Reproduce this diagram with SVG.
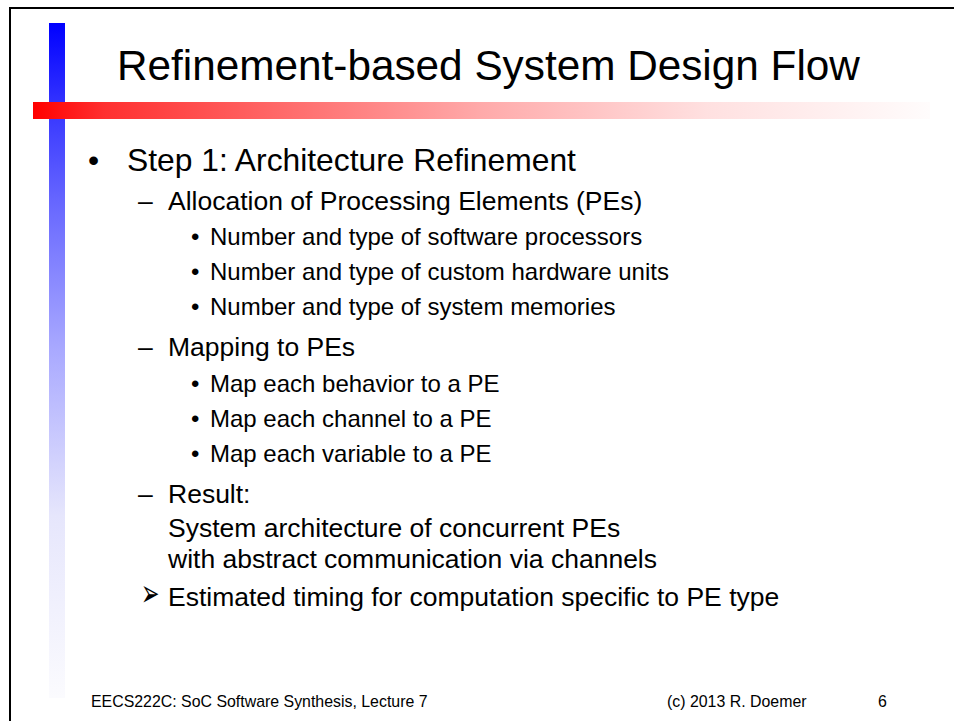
<svg xmlns="http://www.w3.org/2000/svg" width="954" height="721" viewBox="0 0 954 721">
  <defs>
    <linearGradient id="blueGrad" x1="0" y1="0" x2="0" y2="1">
      <stop offset="0" stop-color="#0000ff"/>
      <stop offset="0.12" stop-color="#3333ff"/>
      <stop offset="0.26" stop-color="#6565ff"/>
      <stop offset="0.48" stop-color="#a8a8ff"/>
      <stop offset="0.73" stop-color="#e6e6fc"/>
      <stop offset="1" stop-color="#fbfbfe"/>
    </linearGradient>
    <linearGradient id="redGrad" x1="0" y1="0" x2="1" y2="0">
      <stop offset="0" stop-color="#ff0000"/>
      <stop offset="0.08" stop-color="#ff3030"/>
      <stop offset="0.3" stop-color="#ff7070"/>
      <stop offset="0.5" stop-color="#ffaaaa"/>
      <stop offset="0.75" stop-color="#ffe0e0"/>
      <stop offset="1" stop-color="#fffcfc"/>
    </linearGradient>
    <style>
      text { font-family: "Liberation Sans", Arial, sans-serif; fill: #000; }
      .title { font-size: 42.3px; }
      .l1 { font-size: 31.8px; }
      .l2 { font-size: 26.5px; }
      .l3 { font-size: 24px; }
      .foot { font-size: 15.9px; }
      .sym { font-family: "DejaVu Sans", sans-serif; font-size: 22px; }
    </style>
  </defs>
  <rect x="0" y="0" width="954" height="721" fill="#ffffff"/>
  <path d="M10 721 V8 H954" fill="none" stroke="#000" stroke-width="2"/>
  <rect x="49" y="23" width="16" height="675" fill="url(#blueGrad)"/>
  <rect x="33" y="102" width="897" height="17" fill="url(#redGrad)"/>

  <text class="title" x="117" y="80">Refinement-based System Design Flow</text>

  <g id="body">
    <text class="l1" x="88" y="171">•</text>
    <text class="l1" x="127" y="171">Step 1: Architecture Refinement</text>

    <text class="l2" x="138" y="210">–</text>
    <text class="l2" x="168" y="210">Allocation of Processing Elements (PEs)</text>
    <text class="l3" x="191" y="245">•</text>
    <text class="l3" x="210" y="245">Number and type of software processors</text>
    <text class="l3" x="191" y="280">•</text>
    <text class="l3" x="210" y="280">Number and type of custom hardware units</text>
    <text class="l3" x="191" y="315">•</text>
    <text class="l3" x="210" y="315">Number and type of system memories</text>

    <text class="l2" x="138" y="356">–</text>
    <text class="l2" x="168" y="356">Mapping to PEs</text>
    <text class="l3" x="191" y="392">•</text>
    <text class="l3" x="210" y="392">Map each behavior to a PE</text>
    <text class="l3" x="191" y="427">•</text>
    <text class="l3" x="210" y="427">Map each channel to a PE</text>
    <text class="l3" x="191" y="462">•</text>
    <text class="l3" x="210" y="462">Map each variable to a PE</text>

    <text class="l2" x="138" y="503">–</text>
    <text class="l2" x="168" y="503">Result:</text>
    <text class="l2" x="168" y="537">System architecture of concurrent PEs</text>
    <text class="l2" x="168" y="568">with abstract communication via channels</text>

    <text class="sym" transform="translate(141,606) scale(1,1.7)">➢</text>
    <text class="l2" x="168" y="606">Estimated timing for computation specific to PE type</text>
  </g>

  <g id="footer">
    <text class="foot" x="91" y="707">EECS222C: SoC Software Synthesis, Lecture 7</text>
    <text class="foot" x="667" y="707">(c) 2013 R. Doemer</text>
    <text class="foot" x="878" y="707">6</text>
  </g>
</svg>
